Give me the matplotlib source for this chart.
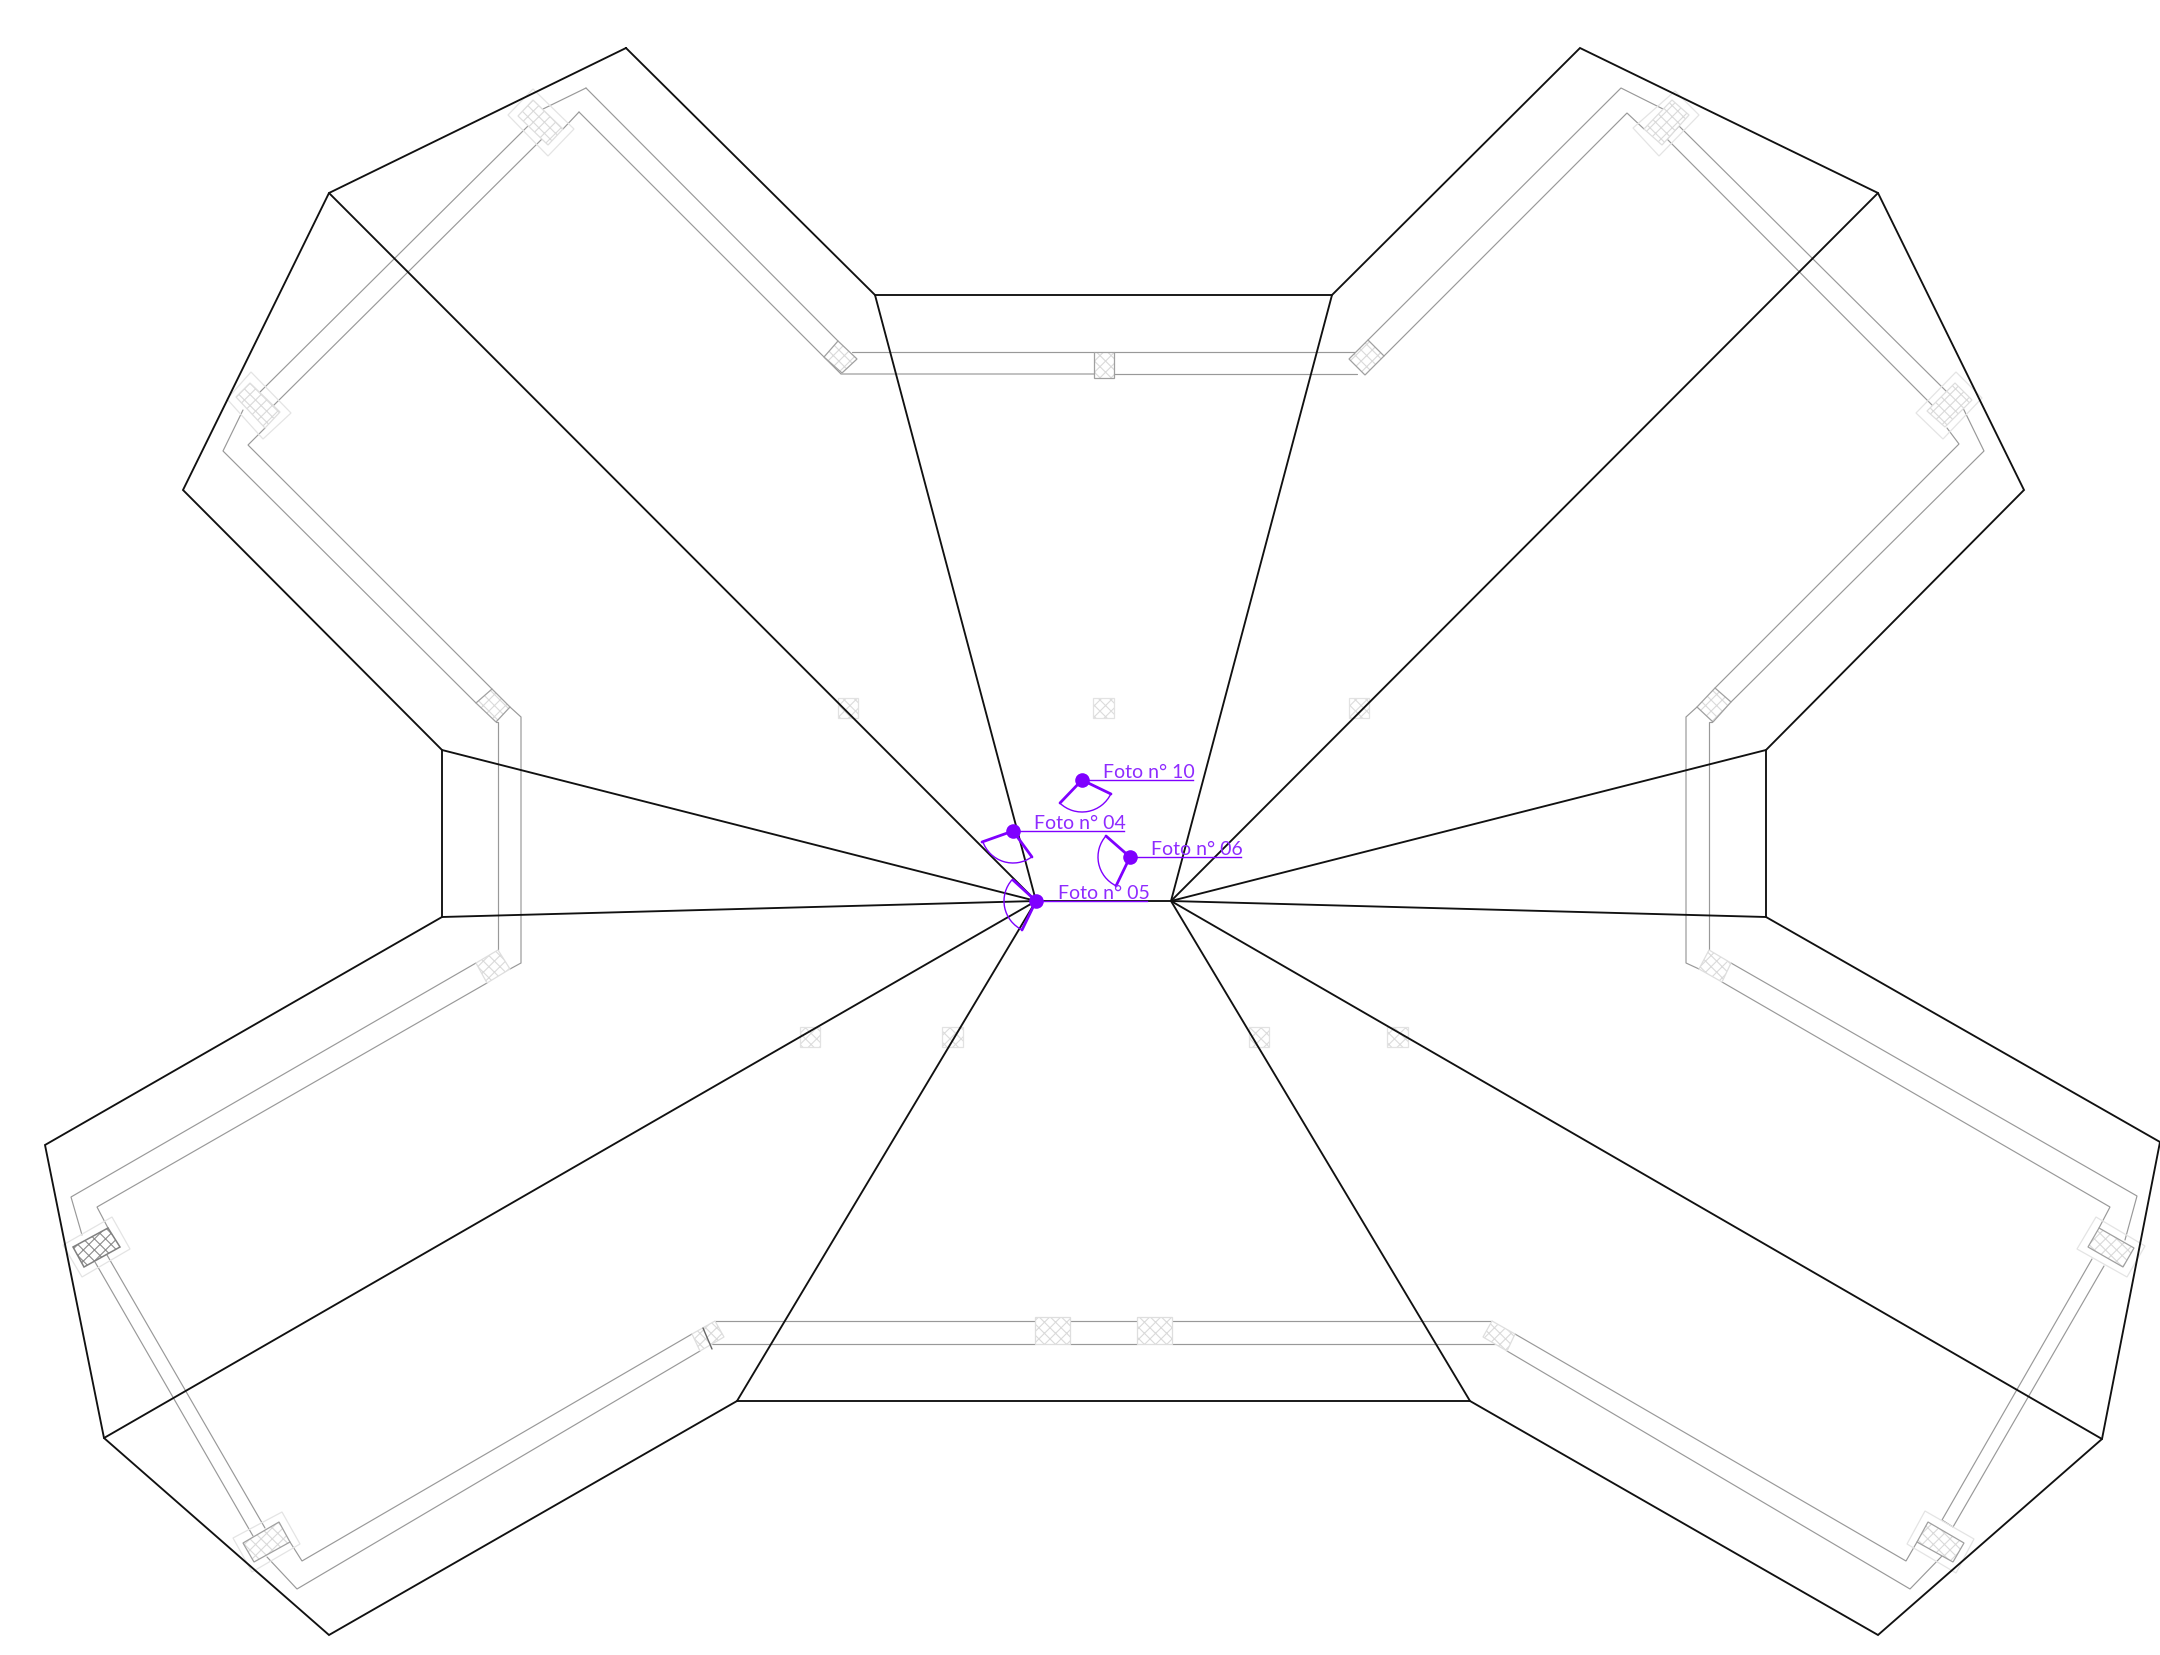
import matplotlib

matplotlib.use("Agg")
import matplotlib.pyplot as plt
from matplotlib.patches import Arc, Polygon

OUTLINE = [
    (626, 48), (875, 295), (1332, 295), (1580, 48), (1878, 193), (2024, 490),
    (1766, 750), (1766, 917), (2160, 1142), (2102, 1439), (1878, 1635),
    (1470, 1401), (737, 1401), (329, 1635), (104, 1438), (45, 1145),
    (442, 917), (442, 750), (183, 490), (329, 193), (626, 48),
]
LEFT_HUB = (1036, 901)
RIGHT_HUB = (1171, 901)
LEFT_SPOKES = [(329, 193), (875, 295), (442, 750), (442, 917), (104, 1438), (737, 1401), RIGHT_HUB]
RIGHT_SPOKES = [(1332, 295), (1878, 193), (1766, 750), (1766, 917), (2102, 1439), (1470, 1401)]

WALL_LINES = [
    # top run
    [(852, 352), (1094, 352)],
    [(1114, 352), (1355, 352)],
    [(579, 112), (824, 357), (841, 374), (1094, 374)],
    [(1114, 374), (1357, 374)],
    [(586, 88), (838, 341)],
    # top right
    [(1368, 340), (1621, 88), (1663, 109)],
    [(1384, 356), (1627, 113), (1644, 129)],
    [(1679, 126), (1947, 392), (1933, 406), (1667, 139), (1679, 126)],
    [(1963, 408), (1984, 451), (1731, 702)],
    [(1947, 428), (1959, 444), (1715, 688)],
    # right side
    [(1697, 707), (1686, 717), (1686, 963), (1699, 969)],
    [(1712, 722), (1709, 722), (1709, 950)],
    # lower right
    [(1731, 963), (2137, 1196), (2125, 1240)],
    [(1722, 982), (2110, 1207), (2099, 1228)],
    [(2092, 1259), (1942, 1520), (1953, 1527), (2104, 1266)],
    [(1917, 1542), (1906, 1561), (1515, 1334)],
    [(1942, 1556), (1910, 1589), (1507, 1351)],
    # bottom run
    [(1172, 1321), (1492, 1321)],
    [(1172, 1344), (1495, 1344)],
    [(1070, 1321), (1137, 1321)],
    [(1070, 1344), (1137, 1344)],
    [(715, 1321), (1035, 1321)],
    [(712, 1344), (1035, 1344)],
    # lower left
    [(692, 1334), (302, 1561), (290, 1542)],
    [(700, 1351), (297, 1589), (267, 1557)],
    [(95, 1262), (253, 1536)],
    [(107, 1255), (265, 1528)],
    [(82, 1235), (71, 1197), (476, 963)],
    [(108, 1228), (97, 1207), (487, 983)],
    # left side and top left
    [(476, 703), (223, 451), (243, 410)],
    [(492, 689), (248, 445), (265, 428)],
    [(496, 722), (498, 722), (498, 950)],
    [(510, 707), (521, 717), (521, 963), (510, 969)],
    [(260, 392), (528, 126)],
    [(273, 406), (542, 139)],
    [(543, 109), (586, 88)],
    [(563, 129), (579, 112)],
]
DARK_TICK = [(703, 1328), (712, 1349)]

PALE_WINDOWS = [
    [(533, 100), (563, 129), (548, 145), (518, 116)],
    [(250, 383), (280, 412), (265, 428), (236, 397)],
    [(1672, 100), (1689, 115), (1662, 145), (1644, 129)],
    [(1955, 383), (1972, 400), (1945, 427), (1927, 411)],
    [(1035, 1317), (1070, 1317), (1070, 1344), (1035, 1344)],
    [(1137, 1317), (1172, 1317), (1172, 1344), (1137, 1344)],
    [(498, 950), (510, 969), (487, 983), (476, 963)],
    [(1709, 950), (1731, 963), (1722, 982), (1699, 969)],
    [(692, 1334), (715, 1321), (724, 1337), (700, 1351)],
    [(1515, 1334), (1492, 1321), (1483, 1337), (1507, 1351)],
]
GRAY_WINDOWS = [
    [(1094, 352), (1114, 352), (1114, 378), (1094, 378)],
    [(838, 341), (857, 359), (842, 373), (824, 357)],
    [(1368, 340), (1384, 356), (1365, 375), (1349, 359)],
    [(492, 689), (510, 707), (496, 722), (476, 703)],
    [(1715, 688), (1731, 702), (1713, 722), (1697, 707)],
    [(2099, 1228), (2134, 1248), (2123, 1267), (2088, 1247)],
    [(1928, 1522), (1964, 1543), (1953, 1562), (1917, 1542)],
    [(279, 1522), (290, 1542), (254, 1562), (243, 1543)],
]
DARK_WINDOWS = [
    [(108, 1228), (120, 1247), (84, 1267), (73, 1247)],
]
HALOS = [
    [(533, 89), (574, 129), (548, 156), (508, 115)],
    [(251, 372), (291, 413), (263, 439), (227, 399)],
    [(1675, 91), (1699, 115), (1659, 156), (1633, 128)],
    [(1956, 372), (1982, 398), (1943, 439), (1916, 413)],
    [(2096, 1217), (2145, 1246), (2127, 1277), (2077, 1249)],
    [(1925, 1511), (1974, 1539), (1956, 1573), (1907, 1544)],
    [(112, 1217), (130, 1249), (82, 1277), (63, 1245)],
    [(282, 1512), (300, 1544), (252, 1572), (233, 1538)],
]
# free standing squares: x0, x1, y0, y1
FLOOR_SQUARES = [
    (838, 858, 698, 718), (1093, 1114, 698, 718), (1349, 1369, 698, 718),
    (800, 820, 1027, 1047), (942, 963, 1027, 1047),
    (1249, 1269, 1027, 1047), (1387, 1408, 1027, 1047),
]

PHOTO_LABELS = ["Foto n° 10", "Foto n° 04", "Foto n° 06", "Foto n° 05"]
PHOTO_POINTS = [(1082, 780), (1013, 831), (1130, 857), (1036, 901)]
PHOTO_LEADER_ENDS = [1193, 1124, 1241, 1147]
PHOTO_TEXT_X = [1103, 1034, 1151, 1058]
PHOTO_TEXT_BASE = [778, 829, 855, 899]
PHOTO_RAY_A = [(1111, 794), (982, 842), (1106, 836), (1013, 880)]
PHOTO_RAY_B = [(1060, 803), (1032, 857), (1116, 886), (1022, 930)]
PHOTO_ARC_FROM = [25, 54, 116, 115]
PHOTO_ARC_TO = [134, 161, 222, 222]
PHOTO_RADIUS = 32

BLACK = "#111111"
WALL = "#999999"
PURPLE = "#7f00ff"

plt.rcParams["hatch.linewidth"] = 0.8


def _polyline(ax, pts, **kw):
    xs, ys = zip(*pts)
    ax.plot(xs, ys, solid_capstyle="round", solid_joinstyle="miter", **kw)


def _window(ax, corners, hatch_color, edge_color, edge_lw=0.9):
    ax.add_patch(Polygon(corners, closed=True, facecolor="white", edgecolor=hatch_color,
                         hatch="xxx", linewidth=0, zorder=3))
    ax.add_patch(Polygon(corners, closed=True, facecolor="none", edgecolor=edge_color,
                         linewidth=edge_lw, zorder=3.1))


fig = plt.figure(figsize=(21.6, 16.55), dpi=100, facecolor="white")
ax = fig.add_axes([0, 0, 1, 1])
ax.set_xlim(0, 2160)
ax.set_ylim(1655, 0)
ax.axis("off")

for line in WALL_LINES:
    _polyline(ax, line, color=WALL, linewidth=0.85, zorder=2)

for corners in HALOS:
    ax.add_patch(Polygon(corners, closed=True, facecolor="none", edgecolor="#e4e4e4",
                         linewidth=0.9, zorder=2.5))
for corners in PALE_WINDOWS:
    _window(ax, corners, "#dadada", "#dedede")
for corners in GRAY_WINDOWS:
    _window(ax, corners, "#dadada", "#a0a0a0")
for corners in DARK_WINDOWS:
    _window(ax, corners, "#8c8c8c", "#808080", edge_lw=1.1)
for x0, x1, y0, y1 in FLOOR_SQUARES:
    _window(ax, [(x0, y0), (x1, y0), (x1, y1), (x0, y1)], "#dcdcdc", "#e2e2e2")
_polyline(ax, DARK_TICK, color="#666666", linewidth=1.0, zorder=3.2)

_polyline(ax, OUTLINE, color=BLACK, linewidth=1.35, zorder=4)
for end in LEFT_SPOKES:
    _polyline(ax, [LEFT_HUB, end], color=BLACK, linewidth=1.35, zorder=4)
for end in RIGHT_SPOKES:
    _polyline(ax, [RIGHT_HUB, end], color=BLACK, linewidth=1.35, zorder=4)

for i, name in enumerate(PHOTO_LABELS):
    px, py = PHOTO_POINTS[i]
    ax.plot([px, PHOTO_LEADER_ENDS[i]], [py, py], color=PURPLE, linewidth=1.0, zorder=5)
    _polyline(ax, [PHOTO_RAY_A[i], PHOTO_POINTS[i], PHOTO_RAY_B[i]], color=PURPLE, linewidth=2.0, zorder=5)
    ax.add_patch(Arc((px, py), 2 * PHOTO_RADIUS, 2 * PHOTO_RADIUS, theta1=PHOTO_ARC_FROM[i],
                     theta2=PHOTO_ARC_TO[i], edgecolor=PURPLE, linewidth=1.0, zorder=5))
    ax.plot([px], [py], marker="o", markersize=10.5, color=PURPLE, markeredgewidth=0, zorder=6)
    ax.text(PHOTO_TEXT_X[i], PHOTO_TEXT_BASE[i], name, color="#8f2bff", family="Lato",
            fontsize=14, va="baseline", ha="left", zorder=6)

fig.savefig("out.png", dpi=100, facecolor="white")
plt.close(fig)
